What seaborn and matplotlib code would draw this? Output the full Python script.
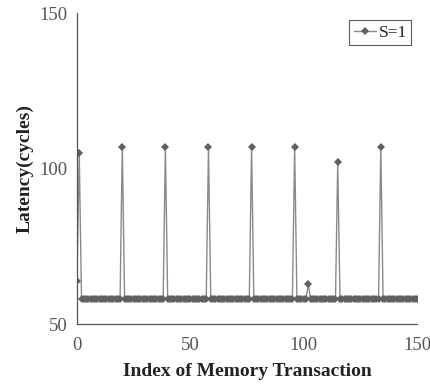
import numpy as np
import pandas as pd
import matplotlib
matplotlib.use("Agg")
import matplotlib.pyplot as plt
import seaborn as sns

# Latency per memory transaction (stride S=1)
n_transactions = 151
base_latency = 58
spike_index = [0, 1, 20, 39, 58, 77, 96, 102, 115, 134]
spike_latency = [64, 105, 107, 107, 107, 107, 107, 63, 102, 107]

latency = [base_latency] * n_transactions
for i, v in zip(spike_index, spike_latency):
    latency[i] = v

df = pd.DataFrame({"index": np.arange(n_transactions), "latency": latency, "series": "S=1"})

sns.set_style("white")
plt.rcParams["font.family"] = ["Liberation Serif", "DejaVu Serif"]

fig = plt.figure(figsize=(4.3, 3.85), dpi=100)
ax = fig.add_axes([0.179, 0.158, 0.791, 0.808])

sns.lineplot(data=df, x="index", y="latency", hue="series", palette=["#6b6b6b"],
             marker="D", markersize=4.0, markeredgewidth=0, linewidth=1.0,
             ax=ax, legend=True)
ax.lines[0].set_color("#8a8a8a")
ax.lines[0].set_markerfacecolor("#606060")
ax.lines[0].set_markeredgecolor("#606060")

ax.set_xlim(0, 150)
ax.set_ylim(50, 150)
ax.set_xticks([0, 50, 100, 150])
ax.set_yticks([50, 100, 150])
ax.tick_params(direction="in", length=4, width=0.8, color="#555555",
               labelsize=13.5, labelcolor="#555555")
ax.tick_params(axis="x", pad=9)
ax.tick_params(axis="y", pad=7)
for s in ["top", "right"]:
    ax.spines[s].set_visible(False)
for s in ["left", "bottom"]:
    ax.spines[s].set_color("#555555")
    ax.spines[s].set_linewidth(0.9)

ax.set_xlabel("Index of Memory Transaction", fontsize=14, fontweight="bold",
              color="#222222", labelpad=7)
ax.set_ylabel("Latency(cycles)", fontsize=14, fontweight="bold", color="#222222")

leg = ax.legend(loc="upper right", frameon=True, fancybox=False, fontsize=12.5,
                handlelength=1.3, handletextpad=0.15, borderpad=0.25,
                borderaxespad=0, bbox_to_anchor=(0.983, 0.977))
leg.get_frame().set_edgecolor("#333333")
leg.get_frame().set_linewidth(0.8)
for t in leg.get_texts():
    t.set_color("#222222")
for h in leg.get_lines():
    h.set_color("#8a8a8a")
    h.set_markerfacecolor("#606060")
    h.set_markeredgecolor("#606060")

fig.savefig("out.png", dpi=100)
